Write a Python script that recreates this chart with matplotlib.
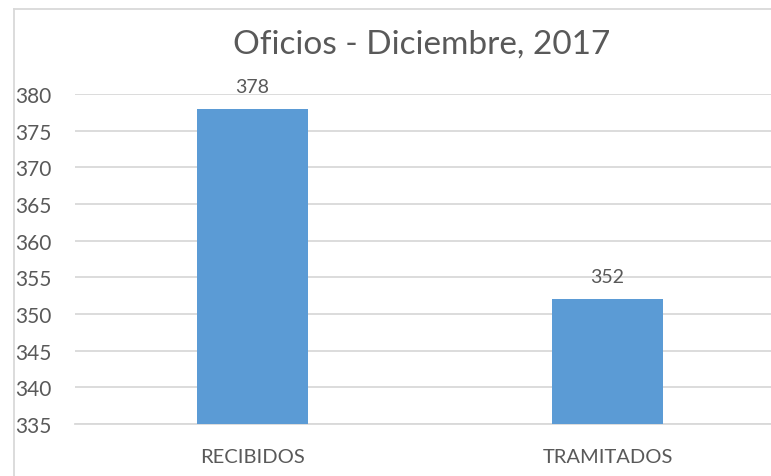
import matplotlib.pyplot as plt
from matplotlib.lines import Line2D

categories = ["RECIBIDOS", "TRAMITADOS"]
values = [378, 352]
yticks = [335, 340, 345, 350, 355, 360, 365, 370, 375, 380]

W, H = 771, 477
plt.rcParams['font.family'] = ['Lato', 'DejaVu Sans']
text_color = '#595959'
grid_color = '#D9D9D9'

fig = plt.figure(figsize=(W / 100, H / 100), dpi=100)

# plot area runs a bit past the right edge of the picture
left, right = 75, 785
top, bottom = 95, 425
ax = fig.add_axes([left / W, 1 - bottom / H, (right - left) / W, (bottom - top) / H])

x = range(len(categories))
ax.bar(x, values, width=0.31, color='#5B9BD5', zorder=3)
for xi, v in zip(x, values):
    ax.annotate(str(v), (xi, v), xytext=(0, 10), textcoords='offset points',
                ha='center', va='bottom', fontsize=14, color=text_color)

ax.set_xlim(-0.5, 1.5)
ax.set_ylim(335, 380)
ax.set_yticks(yticks)
ax.set_xticks(list(x))
ax.set_xticklabels(categories)
ax.yaxis.grid(True, color=grid_color, linewidth=1.3, zorder=0)
for s in ax.spines.values():
    s.set_visible(False)
ax.spines['bottom'].set_visible(True)
ax.spines['bottom'].set_color(grid_color)
ax.spines['bottom'].set_linewidth(1.3)
ax.tick_params(axis='both', length=0, colors=text_color)
ax.tick_params(axis='y', labelsize=15, pad=43)
ax.tick_params(axis='x', labelsize=14.5, pad=17)
for lab in ax.get_yticklabels():
    lab.set_horizontalalignment('left')

fig.text(422 / W, 1 - 45 / H, "Oficios - Diciembre, 2017", ha='center', va='center',
         fontsize=24, color=text_color)

# chart frame (only left and top edges are inside the picture)
fig.add_artist(Line2D([13.5 / W, 13.5 / W], [0, 1 - 10 / H], color=grid_color, linewidth=1.3))
fig.add_artist(Line2D([13.5 / W, 1], [1 - 10 / H, 1 - 10 / H], color=grid_color, linewidth=1.3))

fig.savefig("out.png", dpi=100)
